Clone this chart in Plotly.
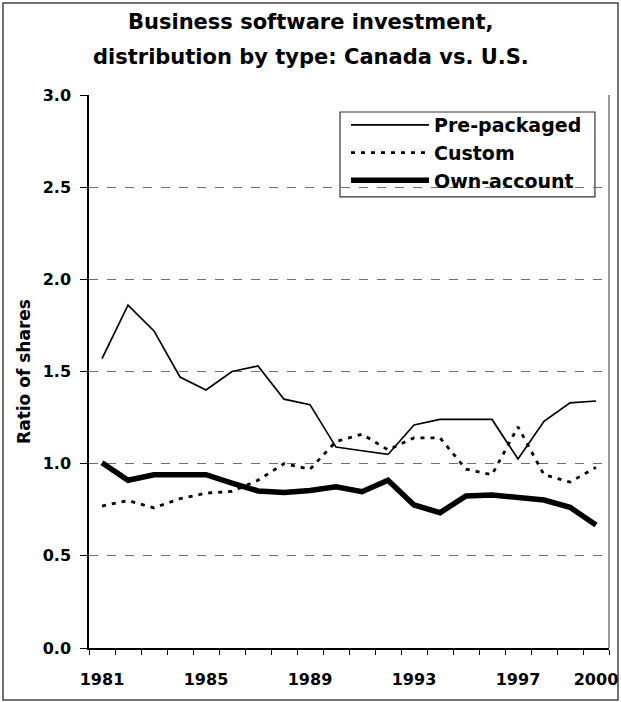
import plotly.graph_objects as go

years = list(range(1981, 2001))
prepackaged = [1.57, 1.86, 1.72, 1.47, 1.40, 1.50, 1.53, 1.35, 1.32, 1.09,
               1.07, 1.05, 1.21, 1.24, 1.24, 1.24, 1.025, 1.23, 1.33, 1.34]
custom = [0.77, 0.80, 0.76, 0.81, 0.84, 0.85, 0.91, 1.00, 0.97, 1.12,
          1.16, 1.075, 1.14, 1.14, 0.97, 0.94, 1.20, 0.94, 0.90, 0.98]
own_account = [1.005, 0.91, 0.94, 0.94, 0.94, 0.895, 0.852, 0.843, 0.855, 0.875,
               0.848, 0.91, 0.776, 0.734, 0.825, 0.83, 0.82, 0.803, 0.763, 0.667]
tick_years = [1981, 1985, 1989, 1993, 1997, 2000]
y_ticks = [0.0, 0.5, 1.0, 1.5, 2.0, 2.5, 3.0]
title_lines = ["Business software investment,", "distribution by type: Canada vs. U.S."]

FONT = "DejaVu Sans"

fig = go.Figure()
fig.add_trace(go.Scatter(x=years, y=prepackaged, mode="lines", name="Pre-packaged",
                         line=dict(color="black", width=1.7)))
fig.add_trace(go.Scatter(x=years, y=custom, mode="lines", name="Custom",
                         line=dict(color="black", width=2.8, dash="4px,6px")))
fig.add_trace(go.Scatter(x=years, y=own_account, mode="lines", name="Own-account",
                         line=dict(color="black", width=5.5)))

title_y = [1.132, 1.0687]
annotations = [
    dict(text="<b>" + t + "</b>", xref="paper", yref="paper", x=0.426, y=yy,
         xanchor="center", yanchor="middle", showarrow=False,
         font=dict(family=FONT, size=21, color="black"))
    for t, yy in zip(title_lines, title_y)
]

fig.update_layout(
    width=621, height=702,
    paper_bgcolor="white", plot_bgcolor="white",
    margin=dict(l=89, r=12, t=95, b=54, autoexpand=False),
    font=dict(family=FONT, color="black", size=16),
    showlegend=True,
    legend=dict(x=0.4942, y=0.980, xanchor="left", yanchor="top",
                bgcolor="rgba(0,0,0,0)", borderwidth=0,
                font=dict(family=FONT, size=19, color="black", weight="bold"),
                itemwidth=78, tracegroupgap=0),
    xaxis=dict(range=[1980.5, 2000.5], tickmode="array", tickvals=tick_years,
               ticktext=[str(y) for y in tick_years], ticks="", showgrid=False,
               zeroline=False, showline=True, linecolor="black", linewidth=1.5,
               automargin=False,
               tickfont=dict(family=FONT, size=16, color="black", weight="bold"),
               ticklabelstandoff=16,
               minor=dict(tick0=0.5, dtick=1, ticks="outside", ticklen=5,
                          tickcolor="black", tickwidth=1, showgrid=False)),
    yaxis=dict(range=[0, 3], tickmode="array", tickvals=y_ticks,
               ticktext=[f"{v:.1f}" for v in y_ticks], ticks="outside", ticklen=7,
               tickcolor="black", showgrid=True, gridcolor="#707070", griddash="dash",
               gridwidth=1, zeroline=False, showline=True, linecolor="black", linewidth=1.5,
               automargin=False, ticklabelstandoff=6,
               tickfont=dict(family=FONT, size=16, color="black", weight="bold"),
               title=dict(text="<b>Ratio of shares</b>", standoff=8,
                          font=dict(family=FONT, size=17, color="black"))),
    annotations=annotations,
    shapes=[
        dict(type="line", xref="paper", yref="paper", x0=1, x1=1, y0=0, y1=1,
             line=dict(color="#555555", width=1.2)),
        dict(type="rect", xref="paper", yref="paper", x0=0.4827, x1=0.973,
             y0=0.8156, y1=0.9693, line=dict(color="#333333", width=1.2),
             fillcolor="white", layer="below"),
        dict(type="rect", xref="paper", yref="paper", x0=-0.1654, x1=1.0173,
             y0=-0.094, y1=1.1664, line=dict(color="#444444", width=1.5),
             fillcolor="rgba(0,0,0,0)", layer="below"),
    ],
)

fig.write_html("out.html", config={"displayModeBar": False},
               post_script="document.body.style.margin='0';")
